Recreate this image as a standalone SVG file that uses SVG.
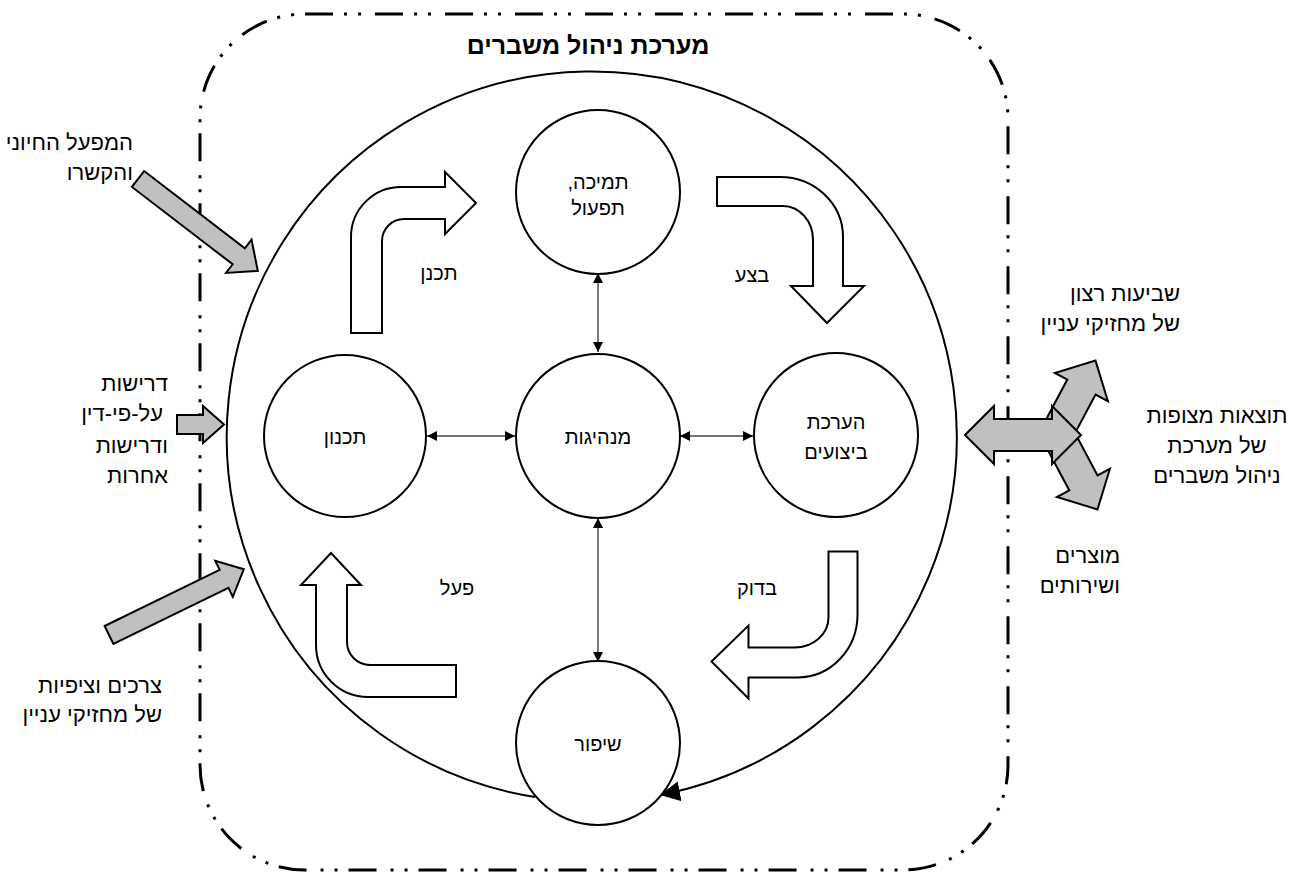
<svg xmlns="http://www.w3.org/2000/svg" width="1296" height="879" viewBox="0 0 1296 879">
<style>
.t{font-family:"Liberation Sans","DejaVu Sans",sans-serif;fill:#000}
.lg{font-size:22px}
.md{font-size:20px}
.ttl{font-size:25px;font-weight:bold}
.node{fill:#fff;stroke:#000;stroke-width:2}
.bend{fill:#fff;stroke:#000;stroke-width:2;stroke-linejoin:miter}
.grey{fill:#c0c0c0;stroke:#000;stroke-width:2;stroke-linejoin:miter}
.link{fill:none;stroke:#444;stroke-width:1.4}
</style>
<defs>
<marker id="ah" viewBox="0 0 10 10" refX="10" refY="5" markerWidth="11" markerHeight="10" markerUnits="userSpaceOnUse" orient="auto-start-reverse">
<path d="M0,0 L10,5 L0,10 Z" fill="#000"/>
</marker>
<marker id="ahBig" viewBox="0 0 10 10" refX="10" refY="5" markerWidth="20" markerHeight="20" markerUnits="userSpaceOnUse" orient="auto">
<path d="M0,0 L10,5 L0,10 Z" fill="#000"/>
</marker>
<path id="arm" d="M0,-16 L52,-16 L52,-30 L82,0 L52,30 L52,16 L0,16 Z"/>
</defs>
<rect width="1296" height="879" fill="#fff"/>

<g id="boundary">
<rect x="200" y="14" width="808" height="856" rx="105" ry="105" fill="none" stroke="#000" stroke-width="3" stroke-dasharray="28 11 3 11 3 14"/>
<text class="t ttl" x="588" y="54" text-anchor="middle" direction="rtl">מערכת ניהול משברים</text>
</g>

<g id="connectors">
<path d="M535,797 A365,365 0 1 1 660,795" fill="none" stroke="#000" stroke-width="2" marker-end="url(#ahBig)"/>
<line class="link" x1="598" y1="273" x2="598" y2="352" marker-start="url(#ah)" marker-end="url(#ah)"/>
<line class="link" x1="598" y1="518" x2="598" y2="662" marker-start="url(#ah)" marker-end="url(#ah)"/>
<line class="link" x1="427" y1="436" x2="515" y2="436" marker-start="url(#ah)" marker-end="url(#ah)"/>
<line class="link" x1="680" y1="436" x2="753" y2="436" marker-start="url(#ah)" marker-end="url(#ah)"/>
</g>

<g id="node-support">
<circle class="node" cx="598" cy="192" r="82"/>
<text class="t md" x="598" y="189" text-anchor="middle" direction="rtl">תמיכה,</text>
<text class="t md" x="598" y="215" text-anchor="middle" direction="rtl">תפעול</text>
</g>
<g id="node-leadership">
<circle class="node" cx="598" cy="436" r="82"/>
<text class="t md" x="598" y="444" text-anchor="middle" direction="rtl">מנהיגות</text>
</g>
<g id="node-planning">
<circle class="node" cx="345" cy="436" r="81"/>
<text class="t md" x="345" y="444" text-anchor="middle" direction="rtl">תכנון</text>
</g>
<g id="node-evaluation">
<circle class="node" cx="836" cy="435" r="82"/>
<text class="t md" x="836" y="429" text-anchor="middle" direction="rtl">הערכת</text>
<text class="t md" x="836" y="459" text-anchor="middle" direction="rtl">ביצועים</text>
</g>
<g id="node-improvement">
<circle class="node" cx="598" cy="743" r="82"/>
<text class="t md" x="598" y="751" text-anchor="middle" direction="rtl">שיפור</text>
</g>

<g id="cycle-plan">
<path class="bend" d="M351,333 L351,237 A50,50 0 0 1 401,187 L445,187 L445,172 L476,203 L445,234 L445,219 L404,219 A22,22 0 0 0 382,241 L382,333 Z"/>
<text class="t md" x="439" y="280" text-anchor="middle" direction="rtl">תכנן</text>
</g>
<g id="cycle-do">
<path class="bend" d="M717,177 L780,177 A63,60 0 0 1 843,237 L843,286 L864,286 L827,323 L791,286 L813,286 L813,240 A30,34 0 0 0 783,206 L717,206 Z"/>
<text class="t md" x="752" y="282" text-anchor="middle" direction="rtl">בצע</text>
</g>
<g id="cycle-check">
<path class="bend" d="M857.5,551.5 L857.5,614.5 A60,63 0 0 1 797.5,677.5 L748.5,677.5 L748.5,698.5 L711.5,661.5 L748.5,625.5 L748.5,647.5 L794.5,647.5 A34,30 0 0 0 828.5,617.5 L828.5,551.5 Z"/>
<text class="t md" x="757" y="595" text-anchor="middle" direction="rtl">בדוק</text>
</g>
<g id="cycle-act">
<path class="bend" d="M456,665 L370,665 A23,23 0 0 1 347,642 L347,585 L361,585 L331,553 L301,585 L316,585 L316,645 A52,52 0 0 0 368,697 L456,697 Z"/>
<text class="t md" x="457" y="595" text-anchor="middle" direction="rtl">פעל</text>
</g>

<g id="input-external">
<path class="grey" transform="translate(138,179) rotate(37.5)" d="M0,-10 L127,-10 L127,-21 L151,0 L127,21 L127,10 L0,10 Z"/>
<text class="t lg" x="133" y="150" text-anchor="start" direction="rtl">המפעל החיוני</text>
<text class="t lg" x="133" y="180" text-anchor="start" direction="rtl">והקשרו</text>
</g>
<g id="input-legal">
<path class="grey" d="M177,415 L203,415 L203,406 L224,424.5 L203,443 L203,434 L177,434 Z"/>
<text class="t lg" x="168" y="391" text-anchor="start" direction="rtl">דרישות</text>
<text class="t lg" x="163" y="421" text-anchor="start" direction="rtl">על-פי-דין</text>
<text class="t lg" x="168" y="453" text-anchor="start" direction="rtl">ודרישות</text>
<text class="t lg" x="168" y="483" text-anchor="start" direction="rtl">אחרות</text>
</g>
<g id="input-needs">
<path class="grey" transform="translate(109,635) rotate(-26)" d="M0,-10 L128,-10 L128,-20 L150,0 L128,20 L128,10 L0,10 Z"/>
<text class="t lg" x="162" y="693" text-anchor="start" direction="rtl">צרכים וציפיות</text>
<text class="t lg" x="162" y="722" text-anchor="start" direction="rtl">של מחזיקי עניין</text>
</g>
<g id="outputs">
<use href="#arm" class="grey" transform="translate(1057,433) rotate(-62)"/>
<use href="#arm" class="grey" transform="translate(1059,437) rotate(62)"/>
<path class="grey" d="M965,435 L994,406 L994,419 L1052,419 L1052,406 L1081,435 L1052,464 L1052,451 L994,451 L994,464 Z"/>
<text class="t lg" x="1180" y="301" text-anchor="start" direction="rtl">שביעות רצון</text>
<text class="t lg" x="1180" y="331" text-anchor="start" direction="rtl">של מחזיקי עניין</text>
<text class="t lg" x="1217" y="423" text-anchor="middle" direction="rtl">תוצאות מצופות</text>
<text class="t lg" x="1217" y="453" text-anchor="middle" direction="rtl">של מערכת</text>
<text class="t lg" x="1217" y="483" text-anchor="middle" direction="rtl">ניהול משברים</text>
<text class="t lg" x="1120" y="563" text-anchor="start" direction="rtl">מוצרים</text>
<text class="t lg" x="1120" y="593" text-anchor="start" direction="rtl">ושירותים</text>
</g>
</svg>
